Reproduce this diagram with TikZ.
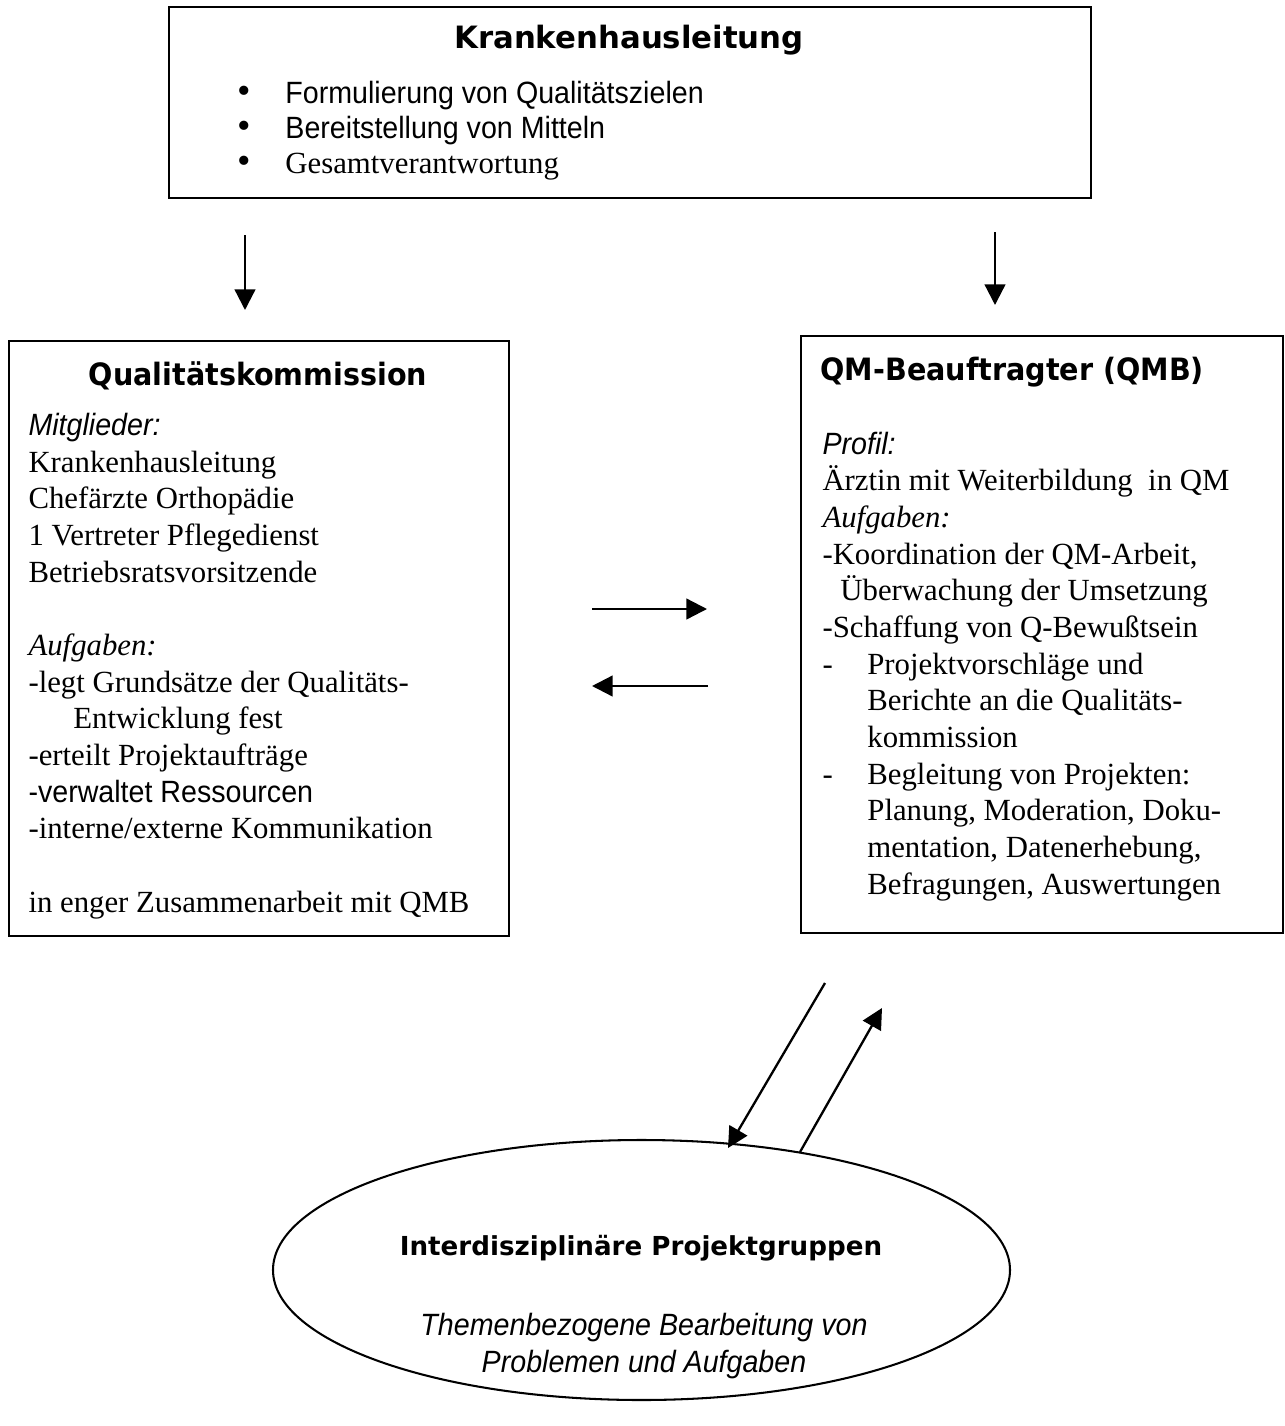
\documentclass[tikz,border=0pt]{standalone}
\usepackage{fontspec}
\setmainfont{Liberation Serif}
\newfontfamily\verdana{DejaVu Sans}
\newfontfamily\verdanacond[FakeStretch=0.93]{DejaVu Sans}
\newfontfamily\tahoma[FakeStretch=0.93]{Liberation Sans}
\usetikzlibrary{arrows.meta,positioning,shapes.geometric}
\tikzset{
  box/.style  ={draw,line width=0.8pt,inner sep=0pt,anchor=north west},
  oval/.style ={draw,ellipse,line width=0.8pt,inner sep=0pt},
  head/.style ={inner sep=0pt,font=\verdanacond\bfseries\fontsize{12}{14}\selectfont},
  body/.style ={inner sep=0pt,align=left,anchor=base west,font=\fontsize{12}{14.3}\selectfont},
  flow/.style ={-{Triangle[length=8pt,width=8pt]},line width=0.9pt},
}
\newcommand\sans{\tahoma}
\newcommand\bul{\makebox[18.7pt][l]{\fontsize{15}{14}\selectfont\textbullet}}

\begin{document}
\begin{tikzpicture}[x=0.39pt,y=-0.39pt]
  \useasboundingbox (0,0) rectangle (1284,1426);
  % top box
  \node[box,minimum width=922*0.39pt,minimum height=191*0.39pt] (kl) at (168,6) {};
  \node[head,font=\verdana\bfseries\fontsize{12}{14}\selectfont] (kl-title) at (629,40) {Krankenhausleitung};
  \node[body,font=\fontsize{12}{13.65}\selectfont] (kl-list) at (237,173) {{\bul\sans Formulierung von Qualitätszielen}\\
    {\bul\sans Bereitstellung von Mitteln}\\ {\bul Gesamtverantwortung}};
  % left box
  \node[box,minimum width=500*0.39pt,minimum height=595*0.39pt] (qk) at (8,340) {};
  \node[head] (qk-title) at (258,376) {Qualitätskommission};
  \node[body] (qk-text) at (28,912) {{\sans\itshape Mitglieder:}\\ Krankenhausleitung\\
    Chefärzte Orthopädie\\ 1 Vertreter Pflegedienst\\ Betriebsratsvorsitzende\\[14.3pt]
    {\itshape Aufgaben:}\\ -legt Grundsätze der Qualitäts-\\ \hspace{17.5pt}Entwicklung fest\\
    -erteilt Projektaufträge\\ {\sans -verwaltet Ressourcen}\\ -interne/externe Kommunikation\\[14.3pt]
    in enger Zusammenarbeit mit QMB};
  % right box
  \node[box,minimum width=482*0.39pt,minimum height=597*0.39pt] (qmb) at (800,335) {};
  \node[head,anchor=west] (qmb-title) at (820,372) {QM-Beauftragter (QMB)};
  \node[body] (qmb-text) at (822,894) {{\sans\itshape Profil:}\\ Ärztin mit Weiterbildung~~in QM\\
    {\itshape Aufgaben:}\\ -Koordination der QM-Arbeit,\\ \hspace{7pt}Überwachung der Umsetzung\\
    -Schaffung von Q-Bewußtsein\\ -\hspace{13.5pt}Projektvorschläge und\\ \hspace{17.5pt}Berichte an die Qualitäts-\\
    \hspace{17.5pt}kommission\\ -\hspace{13.5pt}Begleitung von Projekten:\\ \hspace{17.5pt}Planung, Moderation, Doku-\\
    \hspace{17.5pt}mentation, Datenerhebung,\\ \hspace{17.5pt}Befragungen, Auswertungen};
  % project groups
  \node[oval,minimum width=737*0.39pt,minimum height=260*0.39pt] (pg) at (641.5,1270) {};
  \node[head,font=\verdana\bfseries\fontsize{10.2}{12}\selectfont] (pg-title) at (641,1248) {Interdisziplinäre Projektgruppen};
  \node[inner sep=0pt,align=center,font=\sans\itshape\fontsize{12}{14.3}\selectfont] (pg-text) at (644,1346)
    {Themenbezogene Bearbeitung von\\ Problemen und Aufgaben};
  % arrow ends
  \coordinate (kl-qk-a) at (245,235);   \coordinate (kl-qk-b) at (245,310);
  \coordinate (kl-qmb-a) at (995,232);  \coordinate (kl-qmb-b) at (995,305);
  \coordinate (qk-qmb-a) at (592,609);  \coordinate (qk-qmb-b) at (707,609);
  \coordinate (qmb-qk-a) at (708,686);  \coordinate (qmb-qk-b) at (592,686);
  \coordinate (qmb-pg-a) at (825,983);  \coordinate (qmb-pg-b) at (728,1148);
  \coordinate (pg-qmb-a) at (800,1152); \coordinate (pg-qmb-b) at (882,1008);
  \draw[flow] (kl-qk-a) -- (kl-qk-b);
  \draw[flow] (kl-qmb-a) -- (kl-qmb-b);
  \draw[flow] (qk-qmb-a) -- (qk-qmb-b);
  \draw[flow] (qmb-qk-a) -- (qmb-qk-b);
  \draw[flow] (qmb-pg-a) -- (qmb-pg-b);
  \draw[flow] (pg-qmb-a) -- (pg-qmb-b);
\end{tikzpicture}
\end{document}
